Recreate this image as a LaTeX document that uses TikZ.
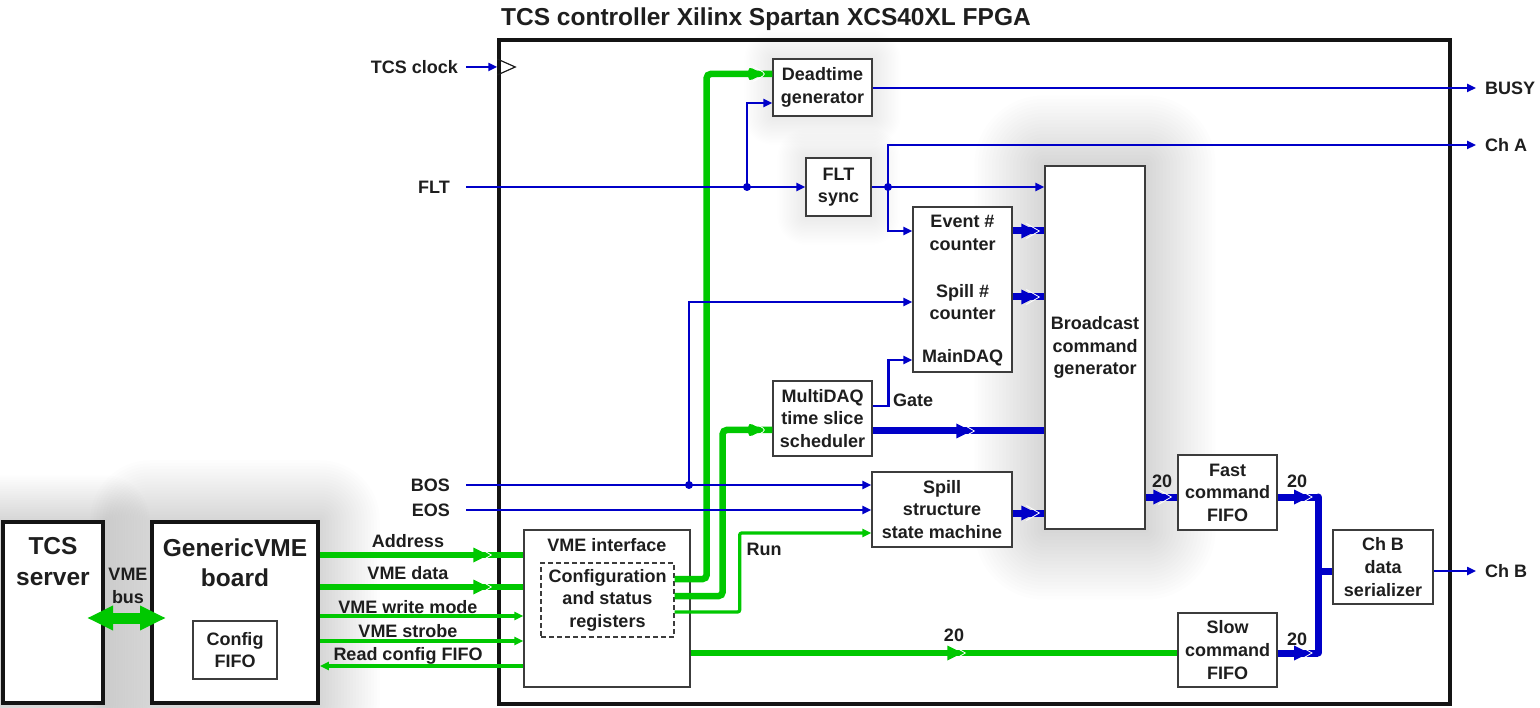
\documentclass[tikz,border=0pt]{standalone}
\usepackage{fontspec}
\setmainfont{Liberation Sans}
\usetikzlibrary{arrows.meta,decorations.markings,backgrounds,calc}
\definecolor{sigblue}{RGB}{0,0,200}
\definecolor{siggreen}{RGB}{0,200,0}
\definecolor{ink}{RGB}{30,30,30}
\definecolor{edge}{RGB}{60,60,60}
\newcommand\txtfont{\fontsize{18}{22.6}\selectfont\bfseries}
\newcommand\bigfont{\fontsize{24.5}{30.5}\selectfont\bfseries}
\newcommand\headfont{\fontsize{24.5}{28}\selectfont\bfseries}
% soft halo around a block: #1 node, #2 reach, #3 opacity of each of 20 layers
\newcommand\glowbox[3]{%
  \foreach \k in {1,...,20}{%
    \fill[black,fill opacity=#3,rounded corners=\k*#2/20]
      ($(#1.south west)+(-\k*#2/20,\k*#2/20)$) rectangle
      ($(#1.north east)+(\k*#2/20,-\k*#2/20)$);}}

\begin{document}
\begin{tikzpicture}[x=1pt,y=-1pt,
  every node/.style={text=ink,font=\txtfont,inner sep=0pt,align=center},
  blk/.style={draw=edge,line width=1.3pt,fill=white},
  heavy/.style={draw=black!92,line width=3.5pt},
  bthin/.style={draw=sigblue,line width=2.9pt,-{Triangle[length=9pt,width=8pt]}},
  gthin/.style={draw=siggreen,line width=3.2pt,-{Triangle[length=9pt,width=8pt]}},
  bthick/.style={draw=sigblue,line width=7pt},
  gthick/.style={draw=siggreen,line width=6.5pt},
  tipmark/.style 2 args={postaction=decorate,decoration={markings,
      mark=at position #1 with {\fill[#2] (-15,-7.5) -- (0,0) -- (-15,7.5) -- cycle;
        \draw[white,line width=0.8pt] (-10,-7.5) -- (3,0) -- (-10,7.5);}}},
  jdot/.style={circle,fill=sigblue,minimum size=8pt,inner sep=0pt}]

\useasboundingbox (0,0) rectangle (1540,708);

% ---------- blocks ----------
\node (title) [font=\headfont] at (766,19) {TCS controller Xilinx Spartan XCS40XL FPGA};
\node[heavy,minimum width=951,minimum height=664] (fpga) at (974.5,372) {};
\draw[ink,line width=1.2pt] (fpga.west |- 0,59) -- ++(18,8) -- ++(-18,8);

\node[heavy,fill=white,minimum width=100,minimum height=181] (server) at (53,612.5) {};
\node[font=\bigfont] (servertxt) at (53,561.5) {TCS\\server};
\node[heavy,fill=white,minimum width=166,minimum height=181] (generic) at (235,612.5) {};
\node[font=\bigfont] (generictxt) at (235,562.5) {GenericVME\\board};
\node[blk,minimum width=84,minimum height=58] (cfifo) at (235,650) {Config\\FIFO};

\node[blk,minimum width=99,minimum height=57] (dead) at (822.5,87.5) {Deadtime\\generator};
\node[blk,minimum width=65,minimum height=58] (sync) at (838.5,187) {FLT\\sync};
\node[blk,minimum width=99,minimum height=165] (counter) at (962.5,289.5) {};
\node (evt) at (962.5,233) {Event \#\\counter};
\node (spl) at (962.5,302) {Spill \#\\counter};
\node (mdq) at (962.5,358) {MainDAQ};
\node[blk,minimum width=100,minimum height=363] (bc) at (1095,347.5) {Broadcast\\command\\generator};
\node[blk,minimum width=99,minimum height=75] (mdaq) at (822.5,418.5) {MultiDAQ\\time slice\\scheduler};
\node[blk,minimum width=140,minimum height=75] (spill) at (942,509.5) {Spill\\structure\\state machine};
\node[blk,minimum width=166,minimum height=157] (vmeif) at (607,608.5) {};
\node (vmeiftxt) at (607,545) {VME interface};
\node[blk,dash pattern=on 5pt off 3pt,minimum width=133,minimum height=74] (regs) at (607.5,600) {Configuration\\and status\\registers};
\node[blk,minimum width=99,minimum height=75] (fast) at (1227.5,492.5) {Fast\\command\\FIFO};
\node[blk,minimum width=99,minimum height=74] (slow) at (1227.5,650) {Slow\\command\\FIFO};
\node[blk,minimum width=100,minimum height=74] (ser) at (1383,567) {Ch B\\data\\serializer};

% ---------- soft halo behind blocks ----------
\begin{scope}[on background layer]
  \fill[white] (0,0) rectangle (1540,708);
  \glowbox{server}{45}{0.006}
  \glowbox{generic}{60}{0.007}
  \glowbox{bc}{70}{0.008}
  \glowbox{dead}{28}{0.005}
  \glowbox{sync}{28}{0.005}
\end{scope}

% ---------- outside labels ----------
\node[anchor=east] (clklbl) at (458,67) {TCS clock};
\node[anchor=east] (fltlbl) at (450,187) {FLT};
\node[anchor=east] (boslbl) at (450,485) {BOS};
\node[anchor=east] (eoslbl) at (450,510) {EOS};
\node[anchor=west] (busylbl) at (1485,88) {BUSY};
\node[anchor=west] (chalbl) at (1485,145) {Ch A};
\node[anchor=west] (chblbl) at (1485,571) {Ch B};
\node (addrlbl) at (408,541) {Address};
\node (datalbl) at (408,573) {VME data};
\node (wmlbl) at (408,607) {VME write mode};
\node (stblbl) at (408,631) {VME strobe};
\node (rdlbl) at (408,656) {Read config FIFO};
\node (vmebus) at (128,586) {VME\\bus};
\node (runlbl) at (764,549) {Run};
\node[anchor=west] (gatelbl) at (893,400) {Gate};
\node (w1) at (1162,481) {20};
\node (w2) at (1297,481) {20};
\node (w3) at (1297,639) {20};
\node (w4) at (954,635) {20};

% ---------- connector end points ----------
\coordinate (clkin) at (466,67);
\coordinate (fltin) at (466,187);
\coordinate (bosin) at (466,485);
\coordinate (eosin) at (466,510);
\coordinate (busyout) at (1476,88);
\coordinate (chaout) at (1476,145);
\coordinate (chbout) at (1476,571);
\coordinate (j1) at (747,187);
\coordinate (j2) at (888,187);
\coordinate (j3) at (689,485);
\coordinate (busx) at (1318,571);
\coordinate (vbl) at (87,618);
\coordinate (vbr) at (166,618);

% ---------- green control paths ----------
\draw[gthick,rounded corners=4pt,tipmark={-9pt}{siggreen}]
  (regs.east |- 0,579) -- ++(32,0) |- (dead.west |- 0,74);
\draw[gthick,rounded corners=4pt,tipmark={-9pt}{siggreen}]
  (regs.east |- 0,596) -- ++(48,0) |- (mdaq.west |- 0,430);
\draw[gthin,rounded corners=2pt] (regs.east |- 0,612) -- ++(65,0) |- (spill.west |- 0,533);
\draw[gthick,tipmark={-215pt}{siggreen}] (vmeif.east |- 0,653) -- (slow.west |- 0,653);

\draw[gthick,tipmark={-35pt}{siggreen}] (generic.east |- 0,555) -- (vmeif.west |- 0,555);
\draw[gthick,tipmark={-35pt}{siggreen}] (generic.east |- 0,587) -- (vmeif.west |- 0,587);
\draw[gthin] (generic.east |- 0,616) -- (vmeif.west |- 0,616);
\draw[gthin] (generic.east |- 0,641) -- (vmeif.west |- 0,641);
\draw[gthin] (vmeif.west |- 0,666) -- (generic.east |- 0,666);
\draw[siggreen,line width=11pt,{Triangle[length=26pt,width=23pt]}-{Triangle[length=26pt,width=23pt]}] (vbl) -- (vbr);

% ---------- blue signal paths ----------
\draw[bthin] (clkin) -- (clkin -| fpga.west);
\draw[bthin] (fltin) -- (fltin -| sync.west);
\draw[bthin] (j1) |- (dead.west |- 0,103);
\draw[bthin] (dead.east |- busyout) -- (busyout);
\draw[bthin] (sync.east) -- (sync.east -| bc.west);
\draw[bthin] (j2) |- (chaout);
\draw[bthin] (j2) |- (counter.west |- 0,231);
\draw[bthin] (bosin) -- (bosin -| spill.west);
\draw[bthin] (j3) |- (counter.west |- 0,302);
\draw[bthin] (eosin) -- (eosin -| spill.west);
\draw[bthin] (mdaq.east |- 0,406) -- ++(16,0) |- (counter.west |- 0,360);
\draw[bthin] (ser.east |- chbout) -- (chbout);
\node[jdot] (d1) at (j1) {};
\node[jdot] (d2) at (j2) {};
\node[jdot] (d3) at (j3) {};

\draw[bthick,tipmark={-8pt}{sigblue}] (counter.east |- 0,231) -- (bc.west |- 0,231);
\draw[bthick,tipmark={-8pt}{sigblue}] (counter.east |- 0,297) -- (bc.west |- 0,297);
\draw[bthick,tipmark={-73pt}{sigblue}] (mdaq.east |- 0,431) -- (bc.west |- 0,431);
\draw[bthick,tipmark={-8pt}{sigblue}] (spill.east |- 0,513) -- (bc.west |- 0,513);
\draw[bthick,tipmark={-9pt}{sigblue}] (bc.east |- 0,497) -- (fast.west |- 0,497);
\draw[bthick,tipmark={-9pt}{sigblue}] (fast.east |- 0,497) -- (busx |- 0,497);
\draw[bthick,tipmark={-9pt}{sigblue}] (slow.east |- 0,653) -- (busx |- 0,653);
\draw[bthick,line cap=round] (busx |- 0,497) -- (busx |- 0,653);
\draw[bthick] (busx) -- (busx -| ser.west);
\end{tikzpicture}
\end{document}
